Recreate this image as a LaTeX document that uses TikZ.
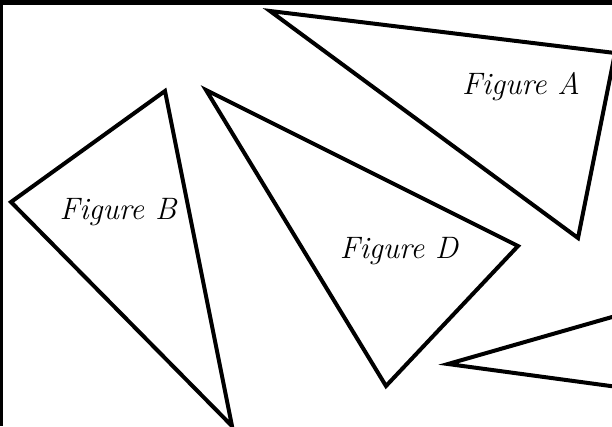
\documentclass[tikz,border=0pt]{standalone}
\begin{document}
\begin{tikzpicture}[x=1pt,y=-1pt,
  tri/.style={line width=4pt,line join=miter},
  lbl/.style={font=\fontsize{31}{34}\selectfont\itshape}]
\useasboundingbox (0,0) rectangle (612,426);
\begin{scope}
\clip (0,0) rectangle (612,426);
% frame
\fill (0,0) rectangle (612,5);
\fill (0,0) rectangle (2.5,426);
% Figure A
\coordinate (a1) at (270,11);
\coordinate (a2) at (615,53);
\coordinate (a3) at (578,238);
\draw[tri] (a1) -- (a2) -- (a3) -- cycle;
% Figure B
\coordinate (b1) at (165,91);
\coordinate (b2) at (11,202);
\coordinate (b3) at (232,426);
\draw[tri] (b1) -- (b2) -- (b3) -- cycle;
% Figure D
\coordinate (d1) at (206,90);
\coordinate (d2) at (518,246);
\coordinate (d3) at (386,386);
\draw[tri] (d1) -- (d2) -- (d3) -- cycle;
% Figure E (partial)
\coordinate (e1) at (448,364);
\coordinate (e2) at (640,309);
\coordinate (e3) at (640,390);
\draw[tri] (e2) -- (e1) -- (e3);
\end{scope}
\node[lbl] (la) at (521,87) {Figure A};
\node[lbl] (lb) at (118,212) {Figure B};
\node[lbl] (ld) at (399,251) {Figure D};
\end{tikzpicture}
\end{document}
